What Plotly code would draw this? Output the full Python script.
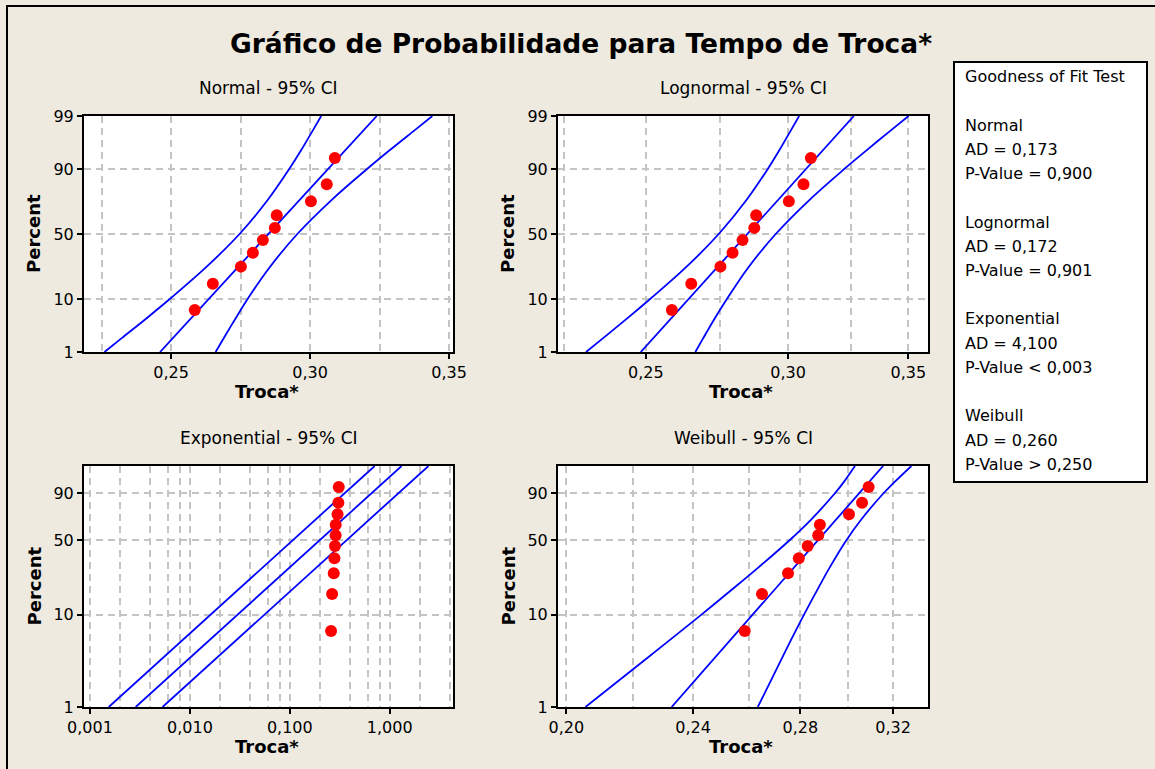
import math
from statistics import NormalDist
import plotly.graph_objects as go

# ---- sample: tempo de troca (sorted) and median-rank plotting positions (%) ----
troca = [0.2585, 0.2650, 0.2751, 0.2794, 0.2830, 0.2873, 0.2880, 0.3003, 0.3060, 0.3089]
percent = [6.7, 16.3, 26.0, 35.6, 45.2, 54.8, 64.4, 74.0, 83.7, 93.3]

# ---- fitted distribution lines (x at 1% and 99%) ----
fit_pct = [1, 99]
normal_fit = [0.2460, 0.3240]
lognormal_fit = [0.2484, 0.3264]
exponential_fit = [0.002866, 1.3132]
weibull_fit = [0.2327, 0.3154]

# ---- 95% confidence bands ----
band_pct = [1, 2, 5, 10, 25, 50, 75, 90, 95, 98, 99]
normal_lower = [0.2260, 0.2322, 0.2415, 0.2495, 0.2622, 0.2746, 0.2848, 0.2925, 0.2967, 0.3011, 0.3040]
normal_upper = [0.2660, 0.2689, 0.2734, 0.2775, 0.2852, 0.2954, 0.3078, 0.3205, 0.3285, 0.3378, 0.3440]
lognormal_lower = [0.2316, 0.2367, 0.2445, 0.2514, 0.2629, 0.2745, 0.2845, 0.2923, 0.2966, 0.3012, 0.3043]
lognormal_upper = [0.2664, 0.2691, 0.2733, 0.2774, 0.2849, 0.2953, 0.3084, 0.3224, 0.3316, 0.3425, 0.3501]
exponential_lower = [0.001542, 0.7065]
exponential_upper = [0.005325, 2.440]
weibull_pct = [1, 2, 5, 10, 20, 30, 50, 70, 90, 95, 99]
weibull_lower = [0.2056, 0.2161, 0.2309, 0.2429, 0.2558, 0.2640, 0.2756, 0.2847, 0.2943, 0.2978, 0.3029]
weibull_upper = [0.2634, 0.2686, 0.2757, 0.2815, 0.2880, 0.2923, 0.2991, 0.3059, 0.3156, 0.3202, 0.3285]

# ---- goodness of fit table ----
dist_names = ["Normal", "Lognormal", "Exponential", "Weibull"]
ad_values = ["0,173", "0,172", "4,100", "0,260"]
p_values = ["= 0,900", "= 0,901", "&lt; 0,003", "&gt; 0,250"]

# ---- ticks ----
pct_ticks_full = [1, 10, 50, 90, 99]
pct_ticks_ev = [1, 10, 50, 90]
lin_ticks = [0.25, 0.30, 0.35]
lin_labels = ["0,25", "0,30", "0,35"]
lin_grid = [0.225, 0.275, 0.325]
expo_ticks = [0.001, 0.01, 0.1, 1.0]
expo_labels = ["0,001", "0,010", "0,100", "1,000"]
expo_grid = [0.002, 0.004, 0.006, 0.008, 0.02, 0.04, 0.06, 0.08,
             0.2, 0.4, 0.6, 0.8, 2, 4]
weib_ticks = [0.20, 0.24, 0.28, 0.32]
weib_labels = ["0,20", "0,24", "0,28", "0,32"]
weib_grid = [0.22, 0.26, 0.30]

W, H = 1155, 769
BG = "#EEEAE0"
GRID = "#C4C4C4"
FONT = "DejaVu Sans"


def px(x):
    return x / W


def py(y):
    return 1 - y / H


def z(p):
    # normal probability paper
    return NormalDist().inv_cdf(p / 100.0)


def sev(p):
    # smallest-extreme-value (Weibull / exponential) probability paper
    return math.log(-math.log(1 - p / 100.0))


fig = go.Figure()

panels = [
    dict(n=1, title="Normal - 95% CI", xpx=(84, 453), ypx=(116, 352), tf=z,
         yt=pct_ticks_full, xtype="linear", xr=[0.21863, 0.35143],
         xt=lin_ticks, xl=lin_labels, xg=lin_grid,
         lo=(band_pct, normal_lower), up=(band_pct, normal_upper), fit=normal_fit),
    dict(n=2, title="Lognormal - 95% CI", xpx=(558, 928), ypx=(116, 352), tf=z,
         yt=pct_ticks_full, xtype="log", xr=[-0.6509, -0.4450],
         xt=lin_ticks, xl=lin_labels, xg=lin_grid,
         lo=(band_pct, lognormal_lower), up=(band_pct, lognormal_upper), fit=lognormal_fit),
    dict(n=3, title="Exponential - 95% CI", xpx=(84, 453), ypx=(466, 707), tf=sev,
         yt=pct_ticks_ev, xtype="log", xr=[-3.06, 0.633],
         xt=expo_ticks, xl=expo_labels, xg=expo_grid,
         lo=(fit_pct, exponential_lower), up=(fit_pct, exponential_upper), fit=exponential_fit),
    dict(n=4, title="Weibull - 95% CI", xpx=(558, 928), ypx=(466, 707), tf=sev,
         yt=pct_ticks_ev, xtype="log", xr=[-0.70414, -0.47310],
         xt=weib_ticks, xl=weib_labels, xg=weib_grid,
         lo=(weibull_pct, weibull_lower), up=(weibull_pct, weibull_upper), fit=weibull_fit),
]

annotations = []
tick_font = dict(family=FONT, size=16, color="black")

for p in panels:
    n = p["n"]
    xa = "x" if n == 1 else f"x{n}"
    ya = "y" if n == 1 else f"y{n}"
    tf = p["tf"]
    line = dict(color="#0000FF", width=1.8)

    for pct_vals, xs in (p["lo"], p["up"]):
        fig.add_trace(go.Scatter(
            x=xs, y=[tf(v) for v in pct_vals], mode="lines",
            line=dict(line, shape="spline", smoothing=1.0),
            xaxis=xa, yaxis=ya, showlegend=False, hoverinfo="skip"))
    fig.add_trace(go.Scatter(
        x=p["fit"], y=[tf(v) for v in fit_pct], mode="lines", line=line,
        xaxis=xa, yaxis=ya, showlegend=False, hoverinfo="skip"))
    fig.add_trace(go.Scatter(
        x=troca, y=[tf(v) for v in percent], mode="markers",
        marker=dict(color="#FF0000", size=12, line=dict(width=0)),
        xaxis=xa, yaxis=ya, showlegend=False))

    x0, x1 = p["xpx"]
    y0, y1 = p["ypx"]
    grid = dict(showgrid=True, gridcolor=GRID, gridwidth=2, griddash="7px,5px")
    axis_common = dict(showline=True, mirror=True, linecolor="black", linewidth=2,
                       ticks="outside", ticklen=5, tickwidth=2, tickcolor="black",
                       zeroline=False, tickfont=tick_font, fixedrange=True,
                       automargin=False, **grid)

    fig.layout[f"xaxis{'' if n == 1 else n}"] = dict(
        domain=[px(x0), px(x1)], anchor=ya, type=p["xtype"], range=p["xr"],
        tickmode="array", tickvals=p["xt"], ticktext=p["xl"],
        minor=dict(tickmode="array", tickvals=p["xg"], ticks="", **grid),
        **axis_common)
    fig.layout[f"yaxis{'' if n == 1 else n}"] = dict(
        domain=[py(y1), py(y0)], anchor=xa, range=[tf(1), tf(99)],
        tickmode="array", tickvals=[tf(v) for v in p["yt"]],
        ticktext=[str(v) for v in p["yt"]], **axis_common)

    cx = (x0 + x1) / 2
    annotations.append(dict(text=p["title"], x=px(cx), y=py(y0 - 28),
                            font=dict(family=FONT, size=17, color="black")))
    annotations.append(dict(text="<b>Troca*</b>", x=px(cx - 2), y=py(y1 + 39),
                            font=dict(family=FONT, size=18, color="black")))
    annotations.append(dict(text="<b>Percent</b>", x=px(x0 - 50), y=py((y0 + y1) / 2),
                            textangle=-90,
                            font=dict(family=FONT, size=18, color="black")))

# main title
annotations.append(dict(text="<b>Gráfico de Probabilidade para Tempo de Troca*</b>",
                        x=px(581), y=py(43),
                        font=dict(family=FONT, size=26.5, color="black")))

# goodness of fit box text
legend_lines = ["Goodness of Fit Test", ""]
for i, name in enumerate(dist_names):
    legend_lines += [name, f"AD = {ad_values[i]}", f"P-Value {p_values[i]}"]
    if i < len(dist_names) - 1:
        legend_lines.append("")
for k, txt in enumerate(legend_lines):
    if txt:
        annotations.append(dict(text=txt, x=px(963), y=py(77 + k * 24.2),
                                xanchor="left",
                                font=dict(family=FONT, size=16, color="black")))

for a in annotations:
    a.setdefault("xref", "paper")
    a.setdefault("yref", "paper")
    a.setdefault("showarrow", False)
    a.setdefault("xanchor", "center")
    a.setdefault("yanchor", "middle")

shapes = [
    # outer frame (right and bottom edges fall just outside the page)
    dict(type="rect", xref="paper", yref="paper", x0=px(7), x1=px(1157), y0=py(771), y1=py(6),
         line=dict(color="black", width=2), fillcolor="rgba(0,0,0,0)", layer="below"),
    # goodness of fit box
    dict(type="rect", xref="paper", yref="paper", x0=px(954), x1=px(1147),
         y0=py(482), y1=py(62), line=dict(color="black", width=2),
         fillcolor="white", layer="below"),
]

fig.update_layout(
    width=W, height=H, autosize=False,
    margin=dict(l=0, r=0, t=0, b=0, pad=0, autoexpand=False),
    paper_bgcolor=BG, plot_bgcolor="white",
    showlegend=False,
    annotations=annotations, shapes=shapes,
    font=dict(family=FONT, color="black"),
)

fig.write_html("out.html")
